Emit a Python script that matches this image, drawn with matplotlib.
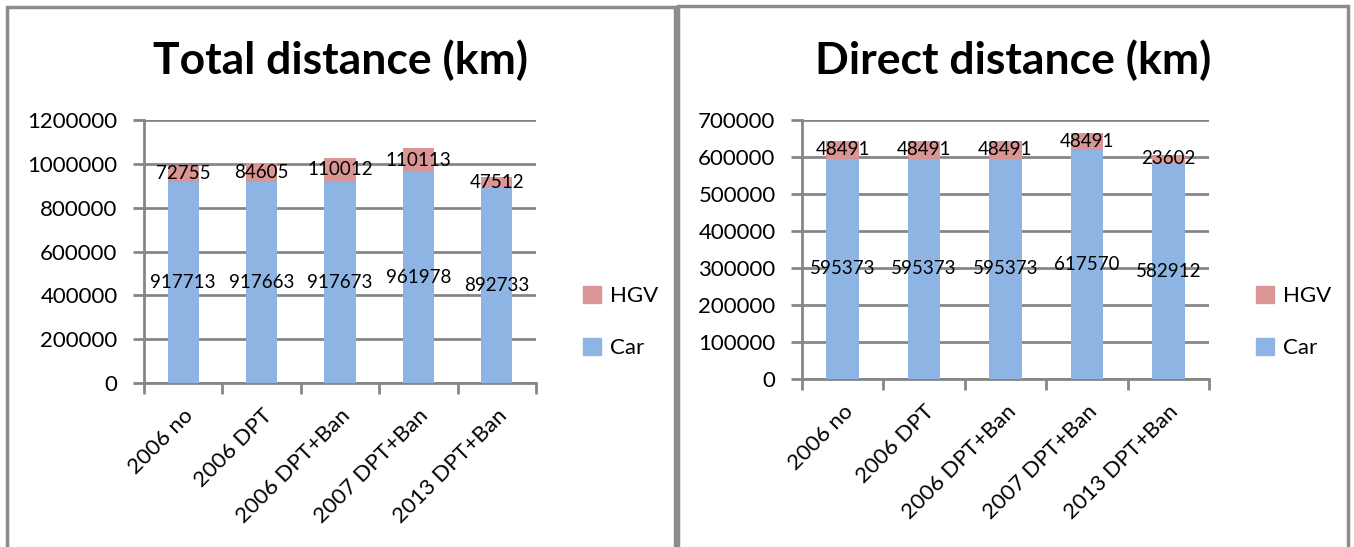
import numpy as np
import matplotlib.pyplot as plt
from matplotlib.patches import Rectangle, Patch
from matplotlib.ticker import FormatStrFormatter

plt.rcParams['font.family'] = ['Lato', 'DejaVu Sans']

scenarios = ['2006 no', '2006 DPT', '2006 DPT+Ban', '2007 DPT+Ban', '2013 DPT+Ban']

# total distance (km)
total_car = [917713, 917663, 917673, 961978, 892733]
total_hgv = [72755, 84605, 110012, 110113, 47512]

# direct distance (km)
direct_car = [595373, 595373, 595373, 617570, 582912]
direct_hgv = [48491, 48491, 48491, 48491, 23602]

car_col = '#8EB4E3'
hgv_col = '#D99694'
grey = '#868686'

W, H = 1354, 547
fig = plt.figure(figsize=(W / 100, H / 100), dpi=100)


def px_axes(x0, y0, x1, y1):
    # axes from pixel box (top-left origin)
    return fig.add_axes([x0 / W, 1 - y1 / H, (x1 - x0) / W, (y1 - y0) / H])


def stacked(ax, car, hgv, ymax, step):
    x = np.arange(len(scenarios))
    ax.bar(x, car, width=0.4, color=car_col, zorder=3)
    ax.bar(x, hgv, width=0.4, bottom=car, color=hgv_col, zorder=3)
    for i in range(len(x)):
        ax.text(x[i], car[i] / 2, str(car[i]), ha='center', va='center',
                fontsize=13.5, zorder=4)
        ax.text(x[i], car[i] + hgv[i] / 2, str(hgv[i]), ha='center',
                va='center', fontsize=13.5, zorder=4)
    ax.set_xlim(-0.5, len(x) - 0.5)
    ax.set_ylim(0, ymax)
    ax.set_yticks(np.arange(0, ymax + 1, step))
    ax.yaxis.set_major_formatter(FormatStrFormatter('%d'))
    ax.yaxis.grid(True, color=grey, linewidth=2, zorder=0)
    for s in ['top', 'right']:
        ax.spines[s].set_visible(False)
    for s in ['left', 'bottom']:
        ax.spines[s].set_color(grey)
        ax.spines[s].set_linewidth(2)
    ax.tick_params(axis='y', colors=grey, length=8, width=2, labelsize=16,
                   labelcolor='black', pad=11)
    ax.set_xticks(x)
    ax.set_xticklabels(scenarios, rotation=45, ha='right', va='top',
                       rotation_mode='anchor', fontsize=16)
    ax.tick_params(axis='x', length=0, pad=16)
    ax.set_xticks(np.arange(-0.5, len(x)), minor=True)
    ax.tick_params(axis='x', which='minor', colors=grey, length=8, width=2)


ax1 = px_axes(144, 120, 536, 383)
stacked(ax1, total_car, total_hgv, 1200000, 200000)
ax2 = px_axes(802, 120, 1209, 379)
stacked(ax2, direct_car, direct_hgv, 700000, 100000)

fig.text(340 / W, 1 - 60 / H, 'Total distance (km)', ha='center', va='center',
         fontsize=32, fontweight='bold')
fig.text(1013 / W, 1 - 60 / H, 'Direct distance (km)', ha='center',
         va='center', fontsize=32, fontweight='bold')

handles = [Patch(color=hgv_col, label='HGV'), Patch(color=car_col, label='Car')]
for lx in [563, 1236]:
    fig.legend(handles=handles, loc='center left',
               bbox_to_anchor=(lx / W, 1 - 322 / H), frameon=False,
               fontsize=16, handlelength=0.8, handleheight=0.8,
               handletextpad=0.4, labelspacing=1.4)

# chart frames
fig.add_artist(Rectangle((7 / W, -0.1), (675 - 7) / W, 1.1 - 7 / H,
                         transform=fig.transFigure, fill=False,
                         edgecolor='#8c8c8c', linewidth=2.5))
fig.add_artist(Rectangle((678 / W, -0.1), (1348 - 678) / W, 1.1 - 6 / H,
                         transform=fig.transFigure, fill=False,
                         edgecolor='#8c8c8c', linewidth=2.5))

fig.savefig('out.png', dpi=100)
